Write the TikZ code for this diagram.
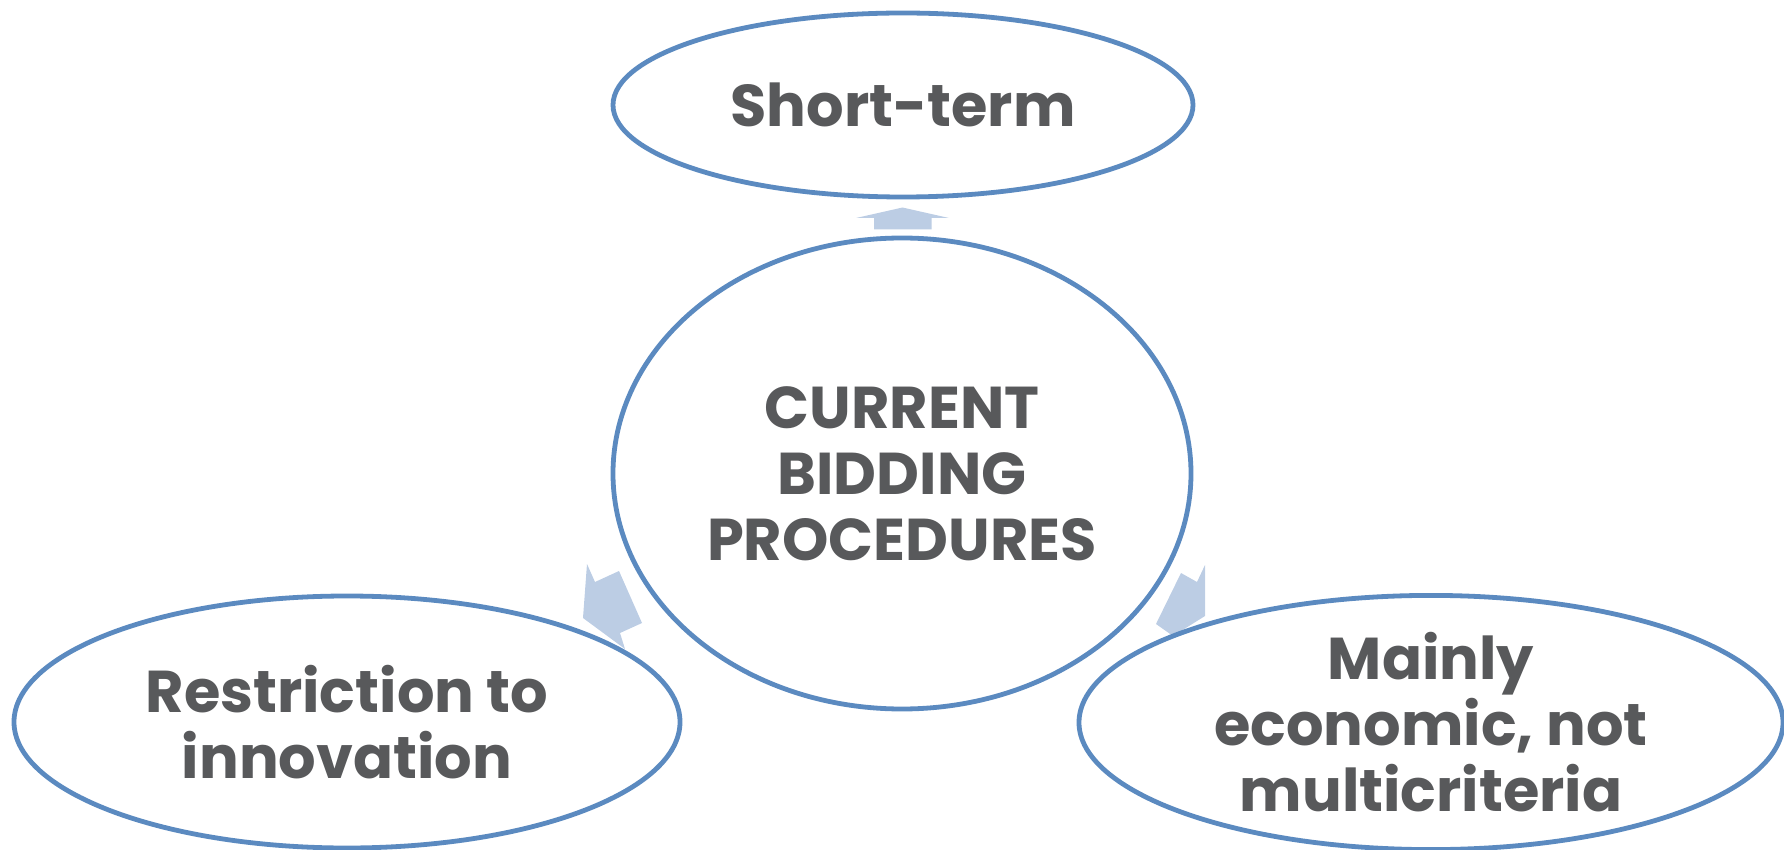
\documentclass[tikz,border=0pt]{standalone}
\usepackage{fontspec}
\setmainfont{Poppins}
\usetikzlibrary{shapes.geometric}
\definecolor{ringblue}{HTML}{5B8AC0}
\definecolor{arrowblue}{HTML}{BCCDE4}
\definecolor{txtgray}{HTML}{58595B}
\tikzset{
  ring/.style={ellipse, draw=ringblue, line width=2.4pt, fill=white, inner sep=0pt,
    text=txtgray, font=\fontsize{29.5}{33}\selectfont\bfseries, align=center},
  blockarrow/.style={fill=arrowblue, draw=none}
}
\begin{document}
\begin{tikzpicture}[x=0.5pt,y=-0.5pt]
\useasboundingbox (0,0) rectangle (1784,850);
% block arrows
\fill[blockarrow] (874,229.5) -- (874,218) -- (856,218) -- (902.5,207.5) -- (949,218) -- (931.5,218) -- (931.5,229.5) -- cycle;
\fill[blockarrow] (587,564) -- (595,582) -- (619,571) -- (642,623) -- (620,633) -- (625,649) -- (583,618) -- cycle;
\fill[blockarrow] (1181,573) -- (1197,582) -- (1205,565) -- (1205,616) -- (1173,636) -- (1156,624) -- cycle;
% ellipses
\node[ring, minimum width=580*0.5pt, minimum height=184*0.5pt] (top) at (903,105) {Short-term};
\node[ring, minimum width=578*0.5pt, minimum height=471*0.5pt] (center) at (902,473.5) {CURRENT\\BIDDING\\PROCEDURES};
\node[ring, minimum width=666*0.5pt, minimum height=252*0.5pt] (left) at (347,722) {Restriction to\\innovation};
\node[ring, minimum width=704*0.5pt, minimum height=250*0.5pt] (right) at (1431,722.5) {Mainly\\economic, not\\multicriteria};
\end{tikzpicture}
\end{document}
